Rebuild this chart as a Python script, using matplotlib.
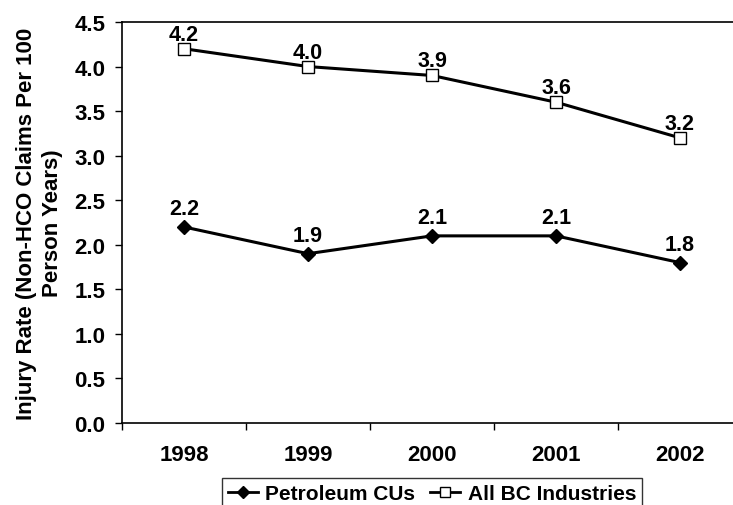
import matplotlib.pyplot as plt
from matplotlib.lines import Line2D

plt.rcParams['font.family'] = ['Liberation Sans', 'DejaVu Sans']
plt.rcParams['font.weight'] = 'bold'

years = ['1998', '1999', '2000', '2001', '2002']
petroleum = [2.2, 1.9, 2.1, 2.1, 1.8]
all_bc = [4.2, 4.0, 3.9, 3.6, 3.2]
y_ticks = [0.0, 0.5, 1.0, 1.5, 2.0, 2.5, 3.0, 3.5, 4.0, 4.5]

FS = 16

fig = plt.figure(figsize=(7.33, 5.06), dpi=100)
# plot area spills past the right edge, like the original
ax = fig.add_axes([122 / 733, 82 / 506, 620 / 733, 401 / 506])

x = range(len(years))
ax.plot(x, petroleum, color='black', lw=2.2, marker='D', ms=7,
        mfc='black', mec='black', zorder=3)
ax.plot(x, all_bc, color='black', lw=2.2, marker='s', ms=8,
        mfc='white', mec='black', mew=1, zorder=3)

# value labels above the markers
for i, v in enumerate(petroleum):
    ax.annotate(f'{v:.1f}', (i, v), xytext=(0, 9), textcoords='offset points',
                ha='center', va='baseline', fontsize=15.5, fontweight='bold')
for i, v in enumerate(all_bc):
    ax.annotate(f'{v:.1f}', (i, v), xytext=(0, 6.5), textcoords='offset points',
                ha='center', va='baseline', fontsize=15.5, fontweight='bold')

ax.set_xlim(-0.5, 4.5)
ax.set_ylim(0, 4.5)
ax.set_yticks(y_ticks)
ax.set_yticklabels([f'{t:.1f}' for t in y_ticks], fontsize=FS, fontweight='bold')
ax.set_xticks([i - 0.5 for i in range(6)])
ax.set_xticklabels([])
ax.set_xticks(list(x), minor=True)
ax.set_xticklabels(years, minor=True, fontsize=FS, fontweight='bold')
ax.tick_params(axis='x', which='major', direction='out', length=5, width=1)
ax.tick_params(axis='x', which='minor', length=0, pad=15)
ax.tick_params(axis='y', direction='out', length=5, width=1, pad=7)

ax.spines['right'].set_visible(False)
for s in ['left', 'bottom', 'top']:
    ax.spines[s].set_linewidth(1.2)

ax.set_ylabel('Injury Rate (Non-HCO Claims Per 100\nPerson Years)',
              fontsize=FS, fontweight='bold', labelpad=8, linespacing=1.33)

handles = [
    Line2D([], [], color='black', lw=2, marker='D', ms=6, mfc='black'),
    Line2D([], [], color='black', lw=2, marker='s', ms=7, mfc='white', mew=1),
]
leg = fig.legend(handles, ['Petroleum CUs', 'All BC Industries'], loc='upper center',
                 bbox_to_anchor=(432 / 733, 1 - 479 / 506), ncol=2, frameon=True,
                 fancybox=False, edgecolor='black', prop={'weight': 'bold', 'size': 15},
                 handlelength=1.45, handletextpad=0.35, columnspacing=0.7,
                 borderpad=0.3, borderaxespad=0)
leg.get_frame().set_linewidth(1)

fig.savefig('out.png', dpi=100)
